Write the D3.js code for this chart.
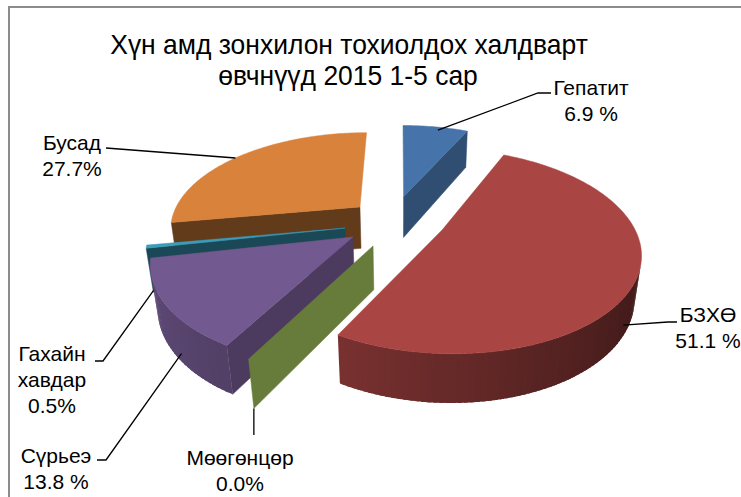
<!DOCTYPE html>
<html><head><meta charset="utf-8">
<script src="https://cdn.jsdelivr.net/npm/d3@7"></script>
<style>
body{margin:0;background:#fff}
svg{display:block}
text{font-family:"Liberation Sans",Arial,sans-serif;fill:#000}
</style>
</head><body>
<svg id="chart" width="741" height="497"></svg>
<script>
// ---- data ----
const categories = ["Гепатит", "БЗХӨ", "Мөөгөнцөр", "Сүрьеэ", "Гахайн хавдар", "Бусад"];
const values = [6.9, 51.1, 0.0, 13.8, 0.5, 27.7];
const valueLabels = ["6.9 %", "51.1 %", "0.0%", "13.8 %", "0.5%", "27.7%"];
const labelLines = [["Гепатит"], ["БЗХӨ"], ["Мөөгөнцөр"], ["Сүрьеэ"], ["Гахайн", "хавдар"], ["Бусад"]];
const colors = ["#4674aa", "#a94543", "#9bbb59", "#72598f", "#3b9cbb", "#d9823c"];
const titleLines = ["Хүн амд зонхилон тохиолдох халдварт", "өвчнүүд 2015 1-5 сар"];

// ---- layout (3D view, explosion, label placement) ----
const view = {x0: 400, y0: 262.6, fx: 810, fy: 880, D: 4.4, tilt: 30 * Math.PI / 180, h: 0.237};
const explode = [[0.02, 0.265], [0.218, -0.1], [-0.135, -0.257], [-0.24, -0.17], [-0.286, -0.08], [-0.218, 0.147]];
// leader anchor on slice: t = fraction of slice angle, r = radius, y = height (fraction of h)
const anchors = [
  {t: 0.56, r: 0.95, y: 1}, {t: 0.54, r: 1, y: 0.3}, {t: 0.5, r: 1, y: 0},
  {t: 0.39, r: 1, y: 0.2}, {t: 0.5, r: 1, y: 0}, {t: 0.48, r: 1, y: 1}
];
const labelPos = [
  {x: 591, y: 95, elbow: [[538, 93], [551, 93]]},
  {x: 708, y: 322, elbow: [[668, 322], [677, 322]]},
  {x: 240, y: 465, elbow: "down", downTo: 435},
  {x: 56, y: 463, elbow: [[106, 460], [97, 460]]},
  {x: 52, y: 361, elbow: [[103, 361], [95, 361]]},
  {x: 72, y: 150, elbow: [[106, 148]]}
];

const svg = d3.select("#chart");

// border
svg.append("path").attr("d", "M9,497V7H741").attr("fill", "none")
  .attr("stroke", "#8c8c8c").attr("stroke-width", 2);

// title
[[349, 54], [348, 85]].forEach((p, i) => {
  svg.append("g").attr("transform", `translate(${p[0]},${p[1]}) scale(0.945,1)`)
    .append("text").attr("x", 0).attr("y", 0).attr("text-anchor", "middle")
    .style("font-size", "28px").text(titleLines[i]);
});

// ---- 3D projection ----
const sT = Math.sin(view.tilt), cT = Math.cos(view.tilt);
const cam = [0, view.D * sT, -view.D * cT];
function proj(X, Y, Z) {
  const d = view.D + Z * cT - Y * sT;
  return [view.x0 + view.fx * X / d, view.y0 - view.fy * (Z * sT + Y * cT) / d];
}
function dist(p) {
  return Math.hypot(p[0] - cam[0], p[1] - cam[1], p[2] - cam[2]);
}
function shade(hex, k) {
  const c = d3.rgb(hex);
  return d3.rgb(c.r * k, c.g * k, c.b * k).formatHex();
}

const pie = d3.pie().sort(null).value(d => d).startAngle(0).endAngle(2 * Math.PI);
const arcs = pie(values);
const H = view.h;

const walls = [], tops = [];
arcs.forEach((a, i) => {
  const [ox, oz] = explode[i];
  const rim = (th, r, y) => [ox + r * Math.sin(th), y, oz + r * Math.cos(th)];
  const col = colors[i];
  const span = a.endAngle - a.startAngle;
  // outer wall facets (slightly overlapping to avoid seams)
  if (span > 0) {
    const n = Math.max(2, Math.ceil(span / (1.5 * Math.PI / 180)));
    const step = span / n;
    for (let k = 0; k < n; k++) {
      const t0 = a.startAngle + step * k;
      const t1 = a.startAngle + step * (k + 1) + (k < n - 1 ? step * 0.7 : 0);
      const tm = a.startAngle + step * (k + 0.5);
      const nrm = [Math.sin(tm), 0, Math.cos(tm)];
      const pts = [rim(t0, 1, 0), rim(t1, 1, 0), rim(t1, 1, H), rim(t0, 1, H)];
      const cen = rim(tm, 1, H / 2);
      const vis = nrm[0] * (cam[0] - cen[0]) + nrm[2] * (cam[2] - cen[2]) > 0;
      if (!vis) continue;
      const k2 = Math.max(0.3, 0.605 - 0.229 * nrm[0]);
      walls.push({pts, d: dist(cen), fill: shade(col, k2), stroke: false});
    }
  }
  // radial faces
  const radial = (th, nrm) => {
    const pts = [[ox, 0, oz], [ox, H, oz], rim(th, 1, H), rim(th, 1, 0)];
    const cen = rim(th, 0.5, H / 2);
    const v = [cam[0] - cen[0], cam[1] - cen[1], cam[2] - cen[2]];
    const dot = (nrm[0] * v[0] + nrm[1] * v[1] + nrm[2] * v[2]) / Math.hypot(v[0], v[1], v[2]);
    if (dot < 0.08) return;
    const k2 = Math.max(0.3, 0.40 + 0.3 * nrm[0]);
    walls.push({pts, d: dist(cen), fill: shade(col, k2), stroke: true});
  };
  radial(a.startAngle, [-Math.cos(a.startAngle), 0, Math.sin(a.startAngle)]);
  if (span > 0) radial(a.endAngle, [Math.cos(a.endAngle), 0, -Math.sin(a.endAngle)]);
  // top face
  if (span > 0) {
    const n = Math.max(2, Math.ceil(span / (1 * Math.PI / 180)));
    const pts = [[ox, H, oz]];
    for (let k = 0; k <= n; k++) pts.push(rim(a.startAngle + span * k / n, 1, H));
    tops.push({pts, fill: col, stroke: true});
  }
});

walls.sort((p, q) => q.d - p.d);
const line = d3.line();
const g = svg.append("g");
walls.concat(tops).forEach(f => {
  const p2 = f.pts.map(p => proj(p[0], p[1], p[2]));
  g.append("path").attr("d", line(p2) + "Z").attr("fill", f.fill)
    .attr("stroke", f.stroke ? f.fill : "none").attr("stroke-width", 0.5)
    .attr("stroke-linejoin", "round");
});

// leader lines and labels
arcs.forEach((a, i) => {
  const [ox, oz] = explode[i];
  const an = anchors[i];
  const th = a.startAngle + (a.endAngle - a.startAngle) * an.t;
  const p = proj(ox + an.r * Math.sin(th), an.y * H, oz + an.r * Math.cos(th));
  const lp = labelPos[i];
  const pts = lp.elbow === "down" ? [p, [p[0], lp.downTo]] : [p].concat(lp.elbow);
  svg.append("path").attr("d", line(pts)).attr("fill", "none")
    .attr("stroke", "#000").attr("stroke-width", 1.3);
  const lines = labelLines[i].concat([valueLabels[i]]);
  lines.forEach((s, j) => {
    svg.append("text").attr("x", lp.x).attr("y", lp.y + j * 26)
      .attr("text-anchor", "middle").style("font-size", "21px").text(s);
  });
});
</script>
</body></html>
